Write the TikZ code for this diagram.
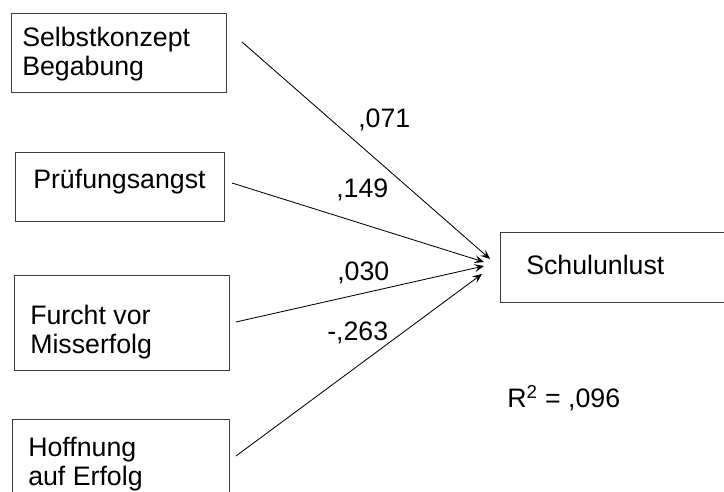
\documentclass[tikz,border=0pt]{standalone}
\usepackage{fontspec}
\setmainfont{Liberation Sans}
\usepackage{xcolor}
\usepackage{tikz}
\usetikzlibrary{arrows.meta,calc}
\definecolor{boxgray}{RGB}{60,60,60}

\begin{document}
\begin{tikzpicture}[x=0.025cm,y=-0.025cm,
  varbox/.style={draw=boxgray, line width=0.7pt, anchor=north west, inner sep=0pt},
  vartext/.style={anchor=north west, inner sep=0pt, align=left, font=\fontsize{19}{20.6}\selectfont},
  coef/.style={anchor=base west, inner sep=0pt, font=\fontsize{19}{20.6}\selectfont},
  effect/.style={draw=black, line width=0.6pt, -{Stealth[length=2.4mm,width=2mm,inset=1mm]}}]
\useasboundingbox (0,0) rectangle (724,492);
% predictors
\node[varbox, minimum width=5.375cm, minimum height=1.975cm] (selbst) at (11,13) {};
\node[varbox, minimum width=5.225cm, minimum height=1.725cm] (angst) at (15,152) {};
\node[varbox, minimum width=5.375cm, minimum height=2.375cm] (furcht) at (14,275) {};
\node[varbox, minimum width=5.425cm, minimum height=2.375cm] (hoffnung) at (12,419) {};
\node[vartext] (selbsttxt) at (22,27) {Selbstkonzept\\Begabung};
\node[vartext] (angsttxt) at (33,169) {Prüfungsangst};
\node[vartext] (furchttxt) at (30,305) {Furcht vor\\Misserfolg};
\node[vartext] (hoffnungtxt) at (28,437) {Hoffnung\\auf Erfolg};
% criterion, cut off at the right
\node[anchor=north west, inner sep=0pt, minimum width=5.6cm, minimum height=1.75cm] (lust) at (500,232) {};
\draw[draw=boxgray, line width=0.7pt] (lust.north east) -- (lust.north west) -- (lust.south west) -- (lust.south east);
\node[vartext] (lusttxt) at (526,255) {Schulunlust};
% paths
\coordinate (s1) at (242,42);
\coordinate (s2) at (232,183);
\coordinate (s3) at (236,322);
\coordinate (s4) at (236,456);
\coordinate (e1) at (490,259);
\coordinate (e2) at (484,262);
\coordinate (e3) at (484,266);
\coordinate (e4) at (482,274);
\draw[effect] (s1) -- (e1);
\draw[effect] (s2) -- (e2);
\draw[effect] (s3) -- (e3);
\draw[effect] (s4) -- (e4);
\node[coef] (c1) at (358,128) {,071};
\node[coef] (c2) at (336,198) {,149};
\node[coef] (c3) at (337,280) {,030};
\node[coef] (c4) at (327,340) {-,263};
\node[coef] (rsq) at (507,407) {R\textsuperscript{2} = ,096};
\end{tikzpicture}
\end{document}
